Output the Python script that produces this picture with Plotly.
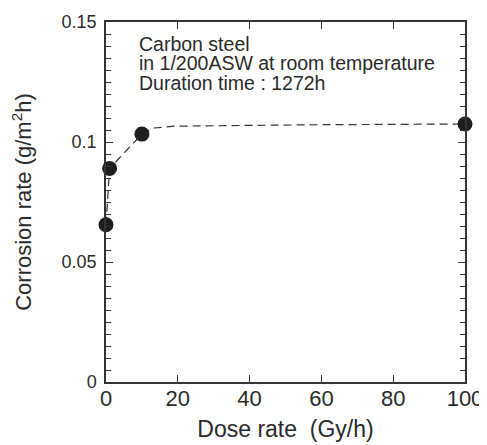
import plotly.graph_objects as go

# Measured data points
dose_rate = [0, 1, 10, 100]
corrosion_rate = [0.0655, 0.089, 0.1033, 0.1075]

# Dashed guide curve
curve_x = [0, 1, 10, 13, 19, 40, 60, 100]
curve_y = [0.0655, 0.089, 0.1033, 0.1058, 0.1066, 0.1070, 0.1072, 0.1075]

note_lines = ["Carbon steel", "in 1/200ASW at room temperature", "Duration time : 1272h"]

FONT = "Liberation Sans, Arial, Helvetica, sans-serif"
INK = "#2a2a2a"

# page has an 8px body margin; compensate so the plot area lands at
# page pixels x 106..465, y 22..382
OFF = 8
W, H = 487 - OFF, 445 - OFF
ml, mt = 106 - OFF, 22 - OFF
pw, ph = 359, 360
mr = W - ml - pw
mb = H - mt - ph

fig = go.Figure()
fig.add_trace(go.Scatter(
    x=curve_x, y=curve_y, mode="lines",
    line=dict(color="#333333", width=1.2, dash="8px,5px"),
    hoverinfo="skip", showlegend=False, cliponaxis=False,
))
fig.add_trace(go.Scatter(
    x=dose_rate, y=corrosion_rate, mode="markers",
    marker=dict(size=15, color="#1e1e1e", line=dict(width=0)),
    showlegend=False, cliponaxis=False,
))

# annotation lines placed by baseline page-pixel position
for i, t in enumerate(note_lines):
    base_px = 53 + i * 19.5
    fig.add_annotation(
        x=(137 - 106) / pw, y=1 - (base_px - 22) / ph, xref="paper", yref="paper",
        text=t, showarrow=False, xanchor="left", yanchor="bottom", yshift=-4,
        font=dict(family=FONT, size=19.5, color=INK),
    )

fig.update_layout(
    width=W, height=H,
    margin=dict(l=ml, r=mr, t=mt, b=mb, autoexpand=False),
    paper_bgcolor="white", plot_bgcolor="white",
    font=dict(family=FONT, color=INK),
    xaxis=dict(
        range=[0, 100], tick0=0, dtick=20, ticks="inside", ticklen=7,
        tickwidth=1.2, tickcolor="#333", showline=True, linecolor="#333",
        linewidth=1.5, mirror="ticks", showgrid=False, zeroline=False,
        automargin=False, tickfont=dict(size=22, color=INK),
        ticklabelstandoff=-4,
        title=dict(text="Dose rate  (Gy/h)", font=dict(size=23, color=INK), standoff=11),
    ),
    yaxis=dict(
        range=[0, 0.15], tick0=0, dtick=0.05, ticks="inside",
        ticklen=7, tickwidth=1.2, tickcolor="#333", showline=True,
        linecolor="#333", linewidth=1.5, mirror="ticks", showgrid=False,
        zeroline=False, automargin=False, tickfont=dict(size=18, color=INK),
        ticklabelstandoff=4,
        minor=dict(dtick=0.005, tick0=0, ticks="inside", ticklen=5, tickwidth=1,
                   tickcolor="#333", showgrid=False),
        title=dict(text="Corrosion rate (g/m<sup>2</sup>h)", font=dict(size=22, color=INK), standoff=26),
    ),
)

fig.write_html("out.html")
